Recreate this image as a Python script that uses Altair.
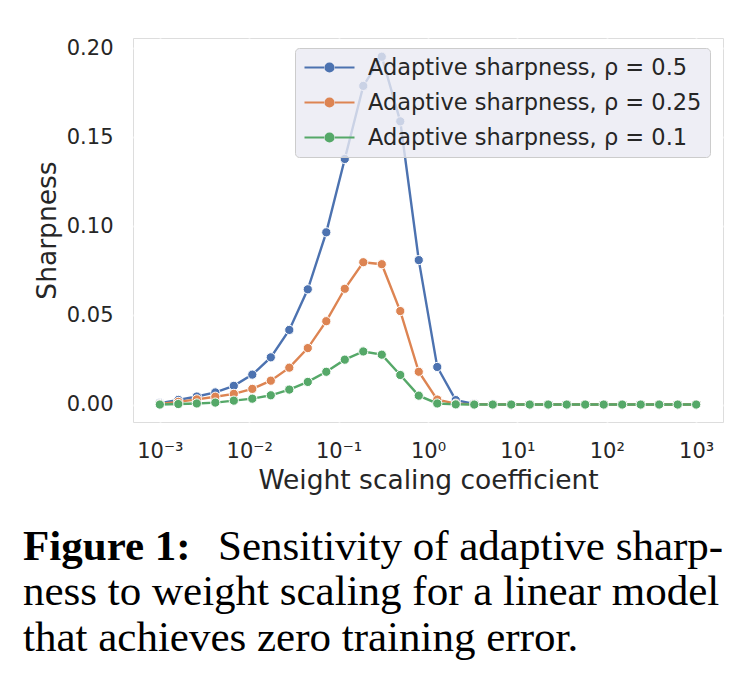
import altair as alt
import pandas as pd

# x grid (30 log-spaced weight scaling coefficients)
x_vals = [0.001, 0.0016103, 0.0025929, 0.0041753, 0.0067234, 0.010826, 0.017433,
          0.028072, 0.045204, 0.07279, 0.11721, 0.18874, 0.30392, 0.48939, 0.78805,
          1.269, 2.0434, 3.2903, 5.2983, 8.5317, 13.738, 22.122, 35.622, 57.362,
          92.367, 148.73, 239.5, 385.66, 621.02, 1000.0]

sharp_05 = [0.0008, 0.0026, 0.0045, 0.0068, 0.0105, 0.0168, 0.0265, 0.0419, 0.0647,
            0.0967, 0.1379, 0.1789, 0.1953, 0.1590, 0.0811, 0.0211, 0.0025, 0.0004,
            0.0001, 0.0, 0.0, 0.0, 0.0, 0.0, 0.0, 0.0, 0.0, 0.0, 0.0, 0.0]
sharp_025 = [0.0003, 0.0015, 0.0029, 0.0044, 0.0060, 0.0088, 0.0134, 0.0207, 0.0317,
             0.0468, 0.0650, 0.0799, 0.0788, 0.0525, 0.0184, 0.0028, 0.0005, 0.0001,
             0.0, 0.0, 0.0, 0.0, 0.0, 0.0, 0.0, 0.0, 0.0, 0.0, 0.0, 0.0]
sharp_01 = [0.0, 0.0003, 0.0006, 0.0011, 0.0022, 0.0033, 0.0052, 0.0084, 0.0127,
            0.0184, 0.0252, 0.0298, 0.0280, 0.0166, 0.0050, 0.0006, 0.0001, 0.0,
            0.0, 0.0, 0.0, 0.0, 0.0, 0.0, 0.0, 0.0, 0.0, 0.0, 0.0, 0.0]

series_labels = ["Adaptive sharpness, ρ = 0.5",
                 "Adaptive sharpness, ρ = 0.25",
                 "Adaptive sharpness, ρ = 0.1"]
series_values = [sharp_05, sharp_025, sharp_01]
series_colors = ["#4C72B0", "#DD8452", "#55A868"]

x_ticks = [0.001, 0.01, 0.1, 1, 10, 100, 1000]
x_tick_labels = ["10⁻³", "10⁻²", "10⁻¹", "10⁰", "10¹", "10²", "10³"]
y_ticks = [0.0, 0.05, 0.10, 0.15, 0.20]

caption_bold = "Figure 1:"
caption_line1 = "Sensitivity of adaptive sharp-"
caption_line2 = "ness to weight scaling for a linear model"
caption_line3 = "that achieves zero training error."

frames = []
for lab, vals in zip(series_labels, series_values):
    frames.append(pd.DataFrame({"x": x_vals, "y": vals, "series": lab}))
df = pd.concat(frames, ignore_index=True)

label_array = "[" + ",".join(f"'{t}'" for t in x_tick_labels) + "]"
x_label_expr = f"{label_array}[round(log(datum.value)/LN10)+3]"

TXT = "#262626"
FONT = "DejaVu Sans"

x_scale = alt.Scale(type="log", domain=[0.000501, 1995.0], nice=False)
y_scale = alt.Scale(domain=[-0.0098, 0.2058], nice=False, zero=False)

x_axis = alt.Axis(values=x_ticks, labelExpr=x_label_expr, ticks=False, tickSize=0,
                  domain=False, grid=True, gridColor="white", gridWidth=1.8,
                  labelFont=FONT, labelFontSize=21, labelColor=TXT, labelPadding=35,
                  labelBaseline="alphabetic", labelFlush=False, labelOverlap=False,
                  title="Weight scaling coefficient", titleFont=FONT, titleFontSize=26.5,
                  titleFontWeight="normal", titleColor=TXT, titleX=295, titleY=66,
                  titleBaseline="alphabetic")
y_axis = alt.Axis(values=y_ticks, format=".2f", ticks=False, tickSize=0,
                  domain=False, grid=True, gridColor="white", gridWidth=1.8,
                  labelFont=FONT, labelFontSize=21, labelColor=TXT, labelPadding=20,
                  labelOverlap=False,
                  title="Sharpness", titleFont=FONT, titleFontSize=26.5,
                  titleFontWeight="normal", titleColor=TXT, titleX=-78, titleY=192,
                  titleBaseline="alphabetic", titleAngle=270)

legend_path = ("M-2.5,0L-0.55,0M0.55,0L2.5,0"
               "M0.4,0A0.4,0.4,0,1,1,-0.4,0A0.4,0.4,0,1,1,0.4,0Z")

legend = alt.Legend(
    title=None, orient="none", legendX=162, legendY=10,
    symbolType=legend_path, symbolSize=400, symbolStrokeWidth=2.2,
    symbolOffset=15, labelOffset=27, symbolOpacity=1,
    labelFont=FONT, labelFontSize=22.5, labelColor=TXT, labelLimit=1000,
    fillColor="rgba(234,234,242,0.8)", strokeColor="#cccccc", cornerRadius=4,
    padding=8, rowPadding=12,
)

color_scale = alt.Scale(domain=series_labels, range=series_colors)


def series_layer(lab):
    return alt.Chart(df).transform_filter(alt.datum.series == lab).mark_line(
        strokeWidth=2.4,
        point=alt.OverlayMarkDef(filled=True, size=85, stroke="white",
                                 strokeWidth=1, opacity=1),
    ).encode(
        x=alt.X("x:Q", scale=x_scale, axis=x_axis),
        y=alt.Y("y:Q", scale=y_scale, axis=y_axis),
        color=alt.Color("series:N", scale=color_scale, legend=legend),
    )


def text_layer(text, x, y, weight):
    return alt.Chart(pd.DataFrame({"t": [text]})).mark_text(
        font="Liberation Serif", fontSize=43, fontWeight=weight, align="left",
        baseline="alphabetic", color="black",
    ).encode(text="t:N", x=alt.value(x), y=alt.value(y))


layers = [series_layer(lab) for lab in series_labels]
layers += [
    text_layer(caption_bold, -110, 522, "bold"),
    text_layer(caption_line1, 85, 522, "normal"),
    text_layer(caption_line2, -110, 567, "normal"),
    text_layer(caption_line3, -110, 613, "normal"),
]

chart = alt.layer(*layers).properties(
    width=590, height=384,
    padding={"left": 133, "top": 38, "right": 33, "bottom": 268},
    autosize=alt.AutoSizeParams(type="none"),
).configure_view(fill="#EAEAF2", stroke="transparent").configure(background="white")

chart.save("out.html", embed_options={"renderer": "svg", "actions": False})
